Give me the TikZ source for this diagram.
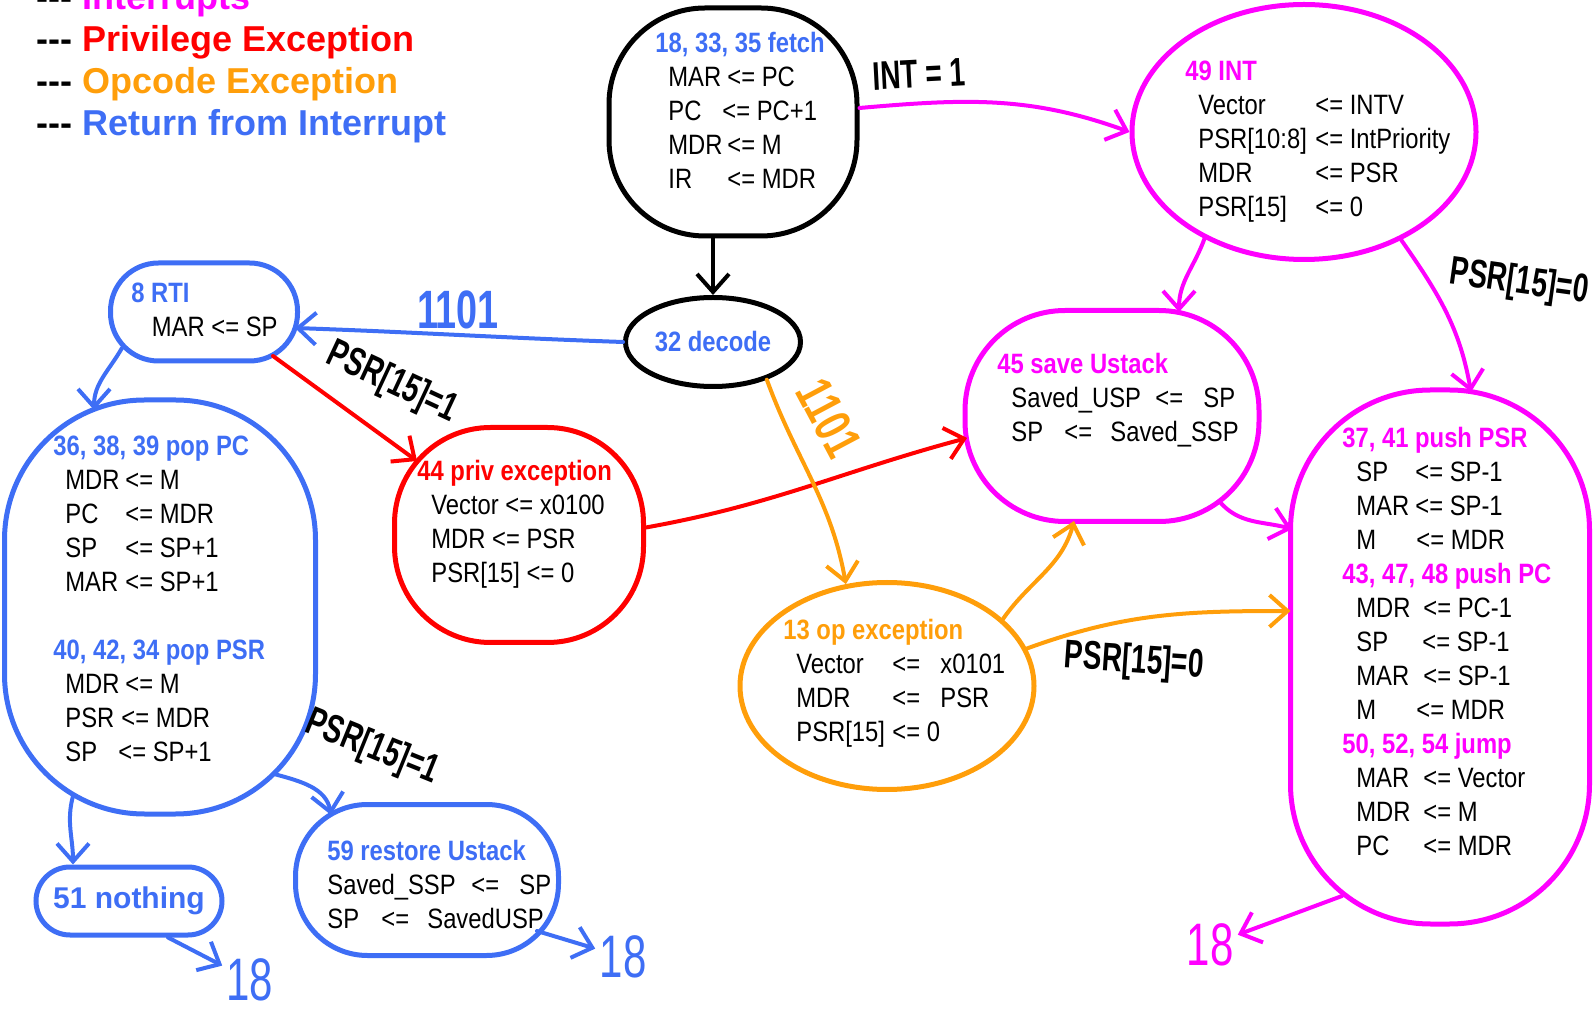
\documentclass[tikz,border=0pt]{standalone}
\usepackage{fontspec}
\usepackage{xcolor}
\usepackage{tikz}
\usetikzlibrary{shapes, arrows.meta, calc}
\setmainfont{Liberation Sans}[FakeStretch=0.85]
\newfontfamily\legendfont{Liberation Sans}
\newfontfamily\handfont{Liberation Sans}[FakeStretch=0.7]
\definecolor{intcol}{RGB}{255,0,255}
\definecolor{privcol}{RGB}{255,0,0}
\definecolor{opcol}{RGB}{255,158,10}
\definecolor{rticol}{RGB}{62,110,245}
\newlength\indw
\newcommand\ttl[2]{\textcolor{#1}{\bfseries #2}}
\newcommand\pl[1]{\hspace*{\indw}#1}
\newcommand\asgn[3]{\hspace*{\indw}\makebox[#1][l]{#2}#3}
\newcommand\asgt[4]{\hspace*{\indw}\makebox[#1][l]{#3}\makebox[#2][l]{<=}#4}
\newcommand\dashes{-\kern0pt-\kern0pt-}

\begin{document}
\begin{tikzpicture}[x=0.5pt, y=0.5pt,
    blob/.style={draw, line width=2.5pt, rounded corners=#1, inner sep=0pt},
    oval/.style={ellipse, draw, line width=2.5pt, inner sep=0pt},
    txt/.style={anchor=base west, inner sep=0pt, font=\fontsize{14}{17}\selectfont},
    legend/.style={anchor=base west, inner sep=0pt, font=\legendfont\bfseries\fontsize{18}{21}\selectfont},
    hand/.style={inner sep=1pt, font=\handfont\bfseries\fontsize{20}{24}\selectfont},
    num/.style={inner sep=2pt, font=\handfont\fontsize{30}{34}\selectfont},
    arr/.style={-{Straight Barb[length=9pt, width=16pt]}, line width=2pt, line cap=round}]
  \useasboundingbox (0,0) rectangle (1596,-1015);

  % legend
  \foreach \c/\t [count=\i] in {intcol/Interrupts, privcol/Privilege Exception, opcol/Opcode Exception, rticol/Return from Interrupt}
    \node[legend] (leg\i) at (36,{-10-42*(\i-1)}) {\dashes\ \textcolor{\c}{\t}};

  % states
  \node[blob=48pt, minimum width=124pt, minimum height=114pt] (fetch) at (733,-122) {};
  \node[oval, draw=intcol, minimum width=172pt, minimum height=127.5pt] (int) at (1304,-132) {};
  \node[oval, minimum width=87.5pt, minimum height=44.5pt, text=rticol,
        font=\fontsize{14}{17}\selectfont\bfseries] (decode) at (713,-342) {32 decode};
  \node[blob=24pt, draw=rticol, minimum width=93.5pt, minimum height=49pt] (rti) at (204,-312) {};
  \node[blob=70pt, draw=rticol, minimum width=155.5pt, minimum height=207pt] (pop) at (160,-607) {};
  \node[blob=48pt, draw=privcol, minimum width=124.5pt, minimum height=107.5pt] (priv) at (519,-535) {};
  \node[oval, draw=opcol, minimum width=147pt, minimum height=103.5pt] (op) at (887,-686) {};
  \node[blob=50pt, draw=intcol, minimum width=147pt, minimum height=105.5pt] (save) at (1112,-416) {};
  \node[blob=70pt, draw=intcol, minimum width=149.5pt, minimum height=267pt] (push) at (1440,-657) {};
  \node[blob=17pt, draw=rticol, minimum width=93pt, minimum height=34pt, text=rticol,
        font=\legendfont\bfseries\fontsize{15}{18}\selectfont] (nothing) at (129,-901) {51 nothing};
  \node[blob=36pt, draw=rticol, minimum width=131.5pt, minimum height=75.5pt] (restore) at (427,-880) {};

  % state texts
  \node[txt] (fetchtxt) at (655,-53) {\setlength\indw{6.5pt}\begin{tabular}[t]{@{}l@{}}
    \ttl{rticol}{18, 33, 35 fetch}\\
    \asgn{29.5pt}{MAR}{<= PC}\\
    \asgn{27pt}{PC}{<= PC+1}\\
    \asgn{29.5pt}{MDR}{<= M}\\
    \asgn{29.5pt}{IR}{<= MDR}
  \end{tabular}};
  \node[txt] (inttxt) at (1185,-81) {\setlength\indw{6.5pt}\begin{tabular}[t]{@{}l@{}}
    \ttl{intcol}{49 INT}\\
    \asgn{58.5pt}{Vector}{<= INTV}\\
    \asgn{58.5pt}{PSR[10:8]}{<= IntPriority}\\
    \asgn{58.5pt}{MDR}{<= PSR}\\
    \asgn{58.5pt}{PSR[15]}{<= 0}
  \end{tabular}};
  \node[txt] (rtitxt) at (131,-303) {\setlength\indw{10.25pt}\begin{tabular}[t]{@{}l@{}}
    \ttl{rticol}{8 RTI}\\
    \pl{MAR <= SP}
  \end{tabular}};
  \node[txt] (poptxt) at (53,-456) {\setlength\indw{6pt}\begin{tabular}[t]{@{}l@{}}
    \ttl{rticol}{36, 38, 39 pop PC}\\
    \asgn{30pt}{MDR}{<= M}\\
    \asgn{30pt}{PC}{<= MDR}\\
    \asgn{30pt}{SP}{<= SP+1}\\
    \asgn{30pt}{MAR}{<= SP+1}\\
    \\
    \ttl{rticol}{40, 42, 34 pop PSR}\\
    \asgn{30pt}{MDR}{<= M}\\
    \asgn{28pt}{PSR}{<= MDR}\\
    \asgn{26.5pt}{SP}{<= SP+1}
  \end{tabular}};
  \node[txt] (privtxt) at (417,-481) {\setlength\indw{7pt}\begin{tabular}[t]{@{}l@{}}
    \ttl{privcol}{44 priv exception}\\
    \pl{Vector <= x0100}\\
    \pl{MDR <= PSR}\\
    \pl{PSR[15] <= 0}
  \end{tabular}};
  \node[txt] (optxt) at (783,-640) {\setlength\indw{6.5pt}\begin{tabular}[t]{@{}l@{}}
    \ttl{opcol}{13 op exception}\\
    \asgt{48pt}{24pt}{Vector}{x0101}\\
    \asgt{48pt}{24pt}{MDR}{PSR}\\
    \asgn{48pt}{PSR[15]}{<= 0}
  \end{tabular}};
  \node[txt] (savetxt) at (997,-374) {\setlength\indw{7pt}\begin{tabular}[t]{@{}l@{}}
    \ttl{intcol}{45 save Ustack}\\
    \asgt{72pt}{24pt}{Saved\_USP}{SP}\\
    \asgt{26.5pt}{23pt}{SP}{Saved\_SSP}
  \end{tabular}};
  \node[txt] (pushtxt) at (1342,-448) {\setlength\indw{7pt}\begin{tabular}[t]{@{}l@{}}
    \ttl{intcol}{37, 41 push PSR}\\
    \asgn{29.5pt}{SP}{<= SP-1}\\
    \asgn{29.5pt}{MAR}{<= SP-1}\\
    \asgn{30pt}{M}{<= MDR}\\
    \ttl{intcol}{43, 47, 48 push PC}\\
    \asgn{33.5pt}{MDR}{<= PC-1}\\
    \asgn{33pt}{SP}{<= SP-1}\\
    \asgn{33.5pt}{MAR}{<= SP-1}\\
    \asgn{30pt}{M}{<= MDR}\\
    \ttl{intcol}{50, 52, 54 jump}\\
    \asgn{33.5pt}{MAR}{<= Vector}\\
    \asgn{33.5pt}{MDR}{<= M}\\
    \asgn{33.5pt}{PC}{<= MDR}
  \end{tabular}};
  \node[txt] (restoretxt) at (327,-860) {\setlength\indw{0pt}\begin{tabular}[t]{@{}l@{}}
    \ttl{rticol}{59 restore Ustack}\\
    \asgt{72pt}{24pt}{Saved\_SSP}{SP}\\
    \asgt{27pt}{23pt}{SP}{SavedUSP}
  \end{tabular}};

  % return targets
  \node[num, text=intcol] (p18m) at (1210,-945) {18};
  \node[num, text=rticol] (p18a) at (250,-980) {18};
  \node[num, text=rticol] (p18b) at (623,-957) {18};

  % arrows
  \draw[arr] (decode.north |- fetch.south) -- (decode.north);
  \draw[arr, intcol] ([yshift=7pt]fetch.east) to[out=5, in=160] (int.west);
  \draw[arr, rticol] (decode.west) to[out=178, in=-2] ([shift={(91,-16)}]rti.center);
  \draw[arr, rticol] ([shift={(-82,-36)}]rti.center) to[out=-120, in=90] ([shift={(-66,197)}]pop.center);
  \draw[arr, privcol] ([shift={(69,-44)}]rti.center) -- ([shift={(-102,74)}]priv.center);
  \draw[arr, privcol] ([shift={(124,7)}]priv.center) to[out=10, in=195] ([shift={(-145,-22)}]save.center);
  \draw[arr, opcol] (decode.-35) to[out=-70, in=100] (op.112);
  \draw[arr, opcol] (op.30) to[out=55, in=-105] ([shift={(-38,-105)}]save.center);
  \draw[arr, opcol] (op.15) to[out=20, in=180] ([shift={(-149.5,46)}]push.center);
  \draw[arr, intcol] ([shift={(107,-85)}]save.center) to[out=-50, in=165] ([shift={(-148,128)}]push.center);
  \draw[arr, intcol] (int.-133) to[out=-110, in=90] ([shift={(67,104)}]save.center);
  \draw[arr, intcol] (int.-48) to[out=-55, in=100] ([shift={(31,265)}]push.center);
  \draw[arr, intcol] ([shift={(-98,-239)}]push.center) -- (p18m);
  \draw[arr, rticol] ([shift={(-87,-189)}]pop.center) to[out=-105, in=90] ([xshift=-28pt]nothing.north);
  \draw[arr, rticol] ([xshift=19.5pt]nothing.south) -- (p18a);
  \draw[arr, rticol] ([shift={(114,-167)}]pop.center) to[out=-15, in=100] ([shift={(-96,65)}]restore.center);
  \draw[arr, rticol] ([shift={(110,-51)}]restore.center) -- (p18b);

  % conditions
  \node[hand, rotate=3] (lint) at (919,-74) {INT = 1};
  \node[hand, text=rticol, font=\handfont\bfseries\fontsize{27}{30}\selectfont] (lrti) at (458,-310) {1101};
  \node[hand, rotate=-25, font=\handfont\bfseries\fontsize{20}{24}\selectfont] (lpriv) at (392,-383) {PSR[15]=1};
  \node[hand, text=opcol, rotate=-62, font=\handfont\bfseries\fontsize{26}{30}\selectfont] (lop) at (829,-418) {1101};
  \node[hand, rotate=-4] (lpush) at (1134,-662) {PSR[15]=0};
  \node[hand, rotate=-8] (lintpush) at (1519,-283) {PSR[15]=0};
  \node[hand, rotate=-22, font=\handfont\bfseries\fontsize{20}{24}\selectfont] (lrestore) at (372,-748) {PSR[15]=1};
\end{tikzpicture}
\end{document}
